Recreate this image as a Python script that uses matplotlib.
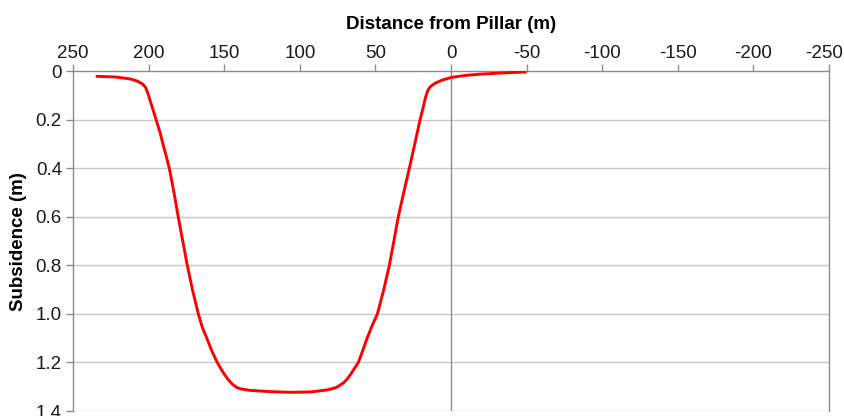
import matplotlib.pyplot as plt
import matplotlib.transforms as mtransforms

# subsidence profile across the panel (distance measured from the pillar)
distance = [235, 222, 212, 207, 204, 202, 200.5, 199, 197, 195, 192.5, 190.5,
            188.3, 186.3, 183.2, 180.4, 177.4, 174.4, 171, 167.1, 164.5, 161.5,
            158, 154.6, 151, 147.5, 144.5, 142, 140, 137, 133, 120, 106,
            92, 82, 78.5, 76, 73.5, 71, 68.5, 66, 61.3, 58.5, 55.5, 52.3, 48.7,
            44.5, 40.8, 37.8, 34.9, 31.3, 27.6, 24, 20.5, 18.5, 17, 15.5, 14,
            12.5, 10, 6, 0, -10, -20, -35, -50]
subsidence = [0.020, 0.023, 0.031, 0.041, 0.052, 0.066, 0.09, 0.12, 0.16, 0.2,
              0.25, 0.3, 0.35, 0.4, 0.5, 0.6, 0.7, 0.8, 0.9, 1.0, 1.055, 1.1,
              1.155, 1.2, 1.238, 1.27, 1.29, 1.302, 1.307, 1.311, 1.315, 1.32,
              1.323, 1.321, 1.313, 1.308, 1.303, 1.294, 1.283, 1.267, 1.245, 1.2,
              1.153, 1.1, 1.05, 1.0, 0.9, 0.8, 0.7, 0.6, 0.5, 0.4, 0.3, 0.2,
              0.15, 0.11, 0.08, 0.065, 0.057, 0.047, 0.036, 0.025, 0.016, 0.011,
              0.006, 0.002]

xticks = [250, 200, 150, 100, 50, 0, -50, -100, -150, -200, -250]
xtick_labels = ['250', '200', '150', '100', '50', '0', '-50', '-100', '-150',
                '-200', '-250']
yticks = [0, 0.2, 0.4, 0.6, 0.8, 1.0, 1.2, 1.4]
ytick_labels = ['0', '0.2', '0.4', '0.6', '0.8', '1.0', '1.2', '1.4']

plt.rcParams['font.family'] = ['Liberation Sans', 'DejaVu Sans']

fig = plt.figure(figsize=(8.45, 4.16), dpi=100)
ax = fig.add_axes([0.0864, 0.012, 0.8947, 0.8163])

ax.set_xlim(250, -250)
ax.set_ylim(1.4, 0)

ax.set_yticks(yticks)
ax.set_yticklabels(ytick_labels)
ax.set_xticks(xticks)
ax.set_xticklabels(xtick_labels)
ax.xaxis.tick_top()
ax.xaxis.set_label_position('top')

grey = '#8c8c8c'
for y in yticks[1:]:
    ax.axhline(y, color='#c8c8c8', lw=1.0, zorder=1)
ax.axvline(0, color='#8c8c8c', lw=1.0, zorder=1)

ax.plot(distance, subsidence, color='#ff0000', lw=2.1, zorder=3,
        solid_joinstyle='round', solid_capstyle='butt')

for side in ['top', 'left', 'right']:
    ax.spines[side].set_color(grey)
    ax.spines[side].set_linewidth(1.0)
ax.spines['bottom'].set_visible(False)

ax.tick_params(axis='both', colors=grey, labelcolor='#1a1a1a',
               labelsize=13.5, length=5, width=1.0, direction='out')
ax.tick_params(axis='x', pad=2)
ax.tick_params(axis='y', pad=3)

# nudge the last x label inward so it stays inside the figure
last = ax.get_xticklabels()[-1]
last.set_transform(last.get_transform() +
                   mtransforms.ScaledTranslation(-5 / 100, 0, fig.dpi_scale_trans))

ax.set_xlabel('Distance from Pillar (m)', fontsize=13.5, fontweight='bold',
              labelpad=11)
ax.set_ylabel('Subsidence (m)', fontsize=13.5, fontweight='bold', labelpad=6)

fig.savefig('out.png', dpi=100)
